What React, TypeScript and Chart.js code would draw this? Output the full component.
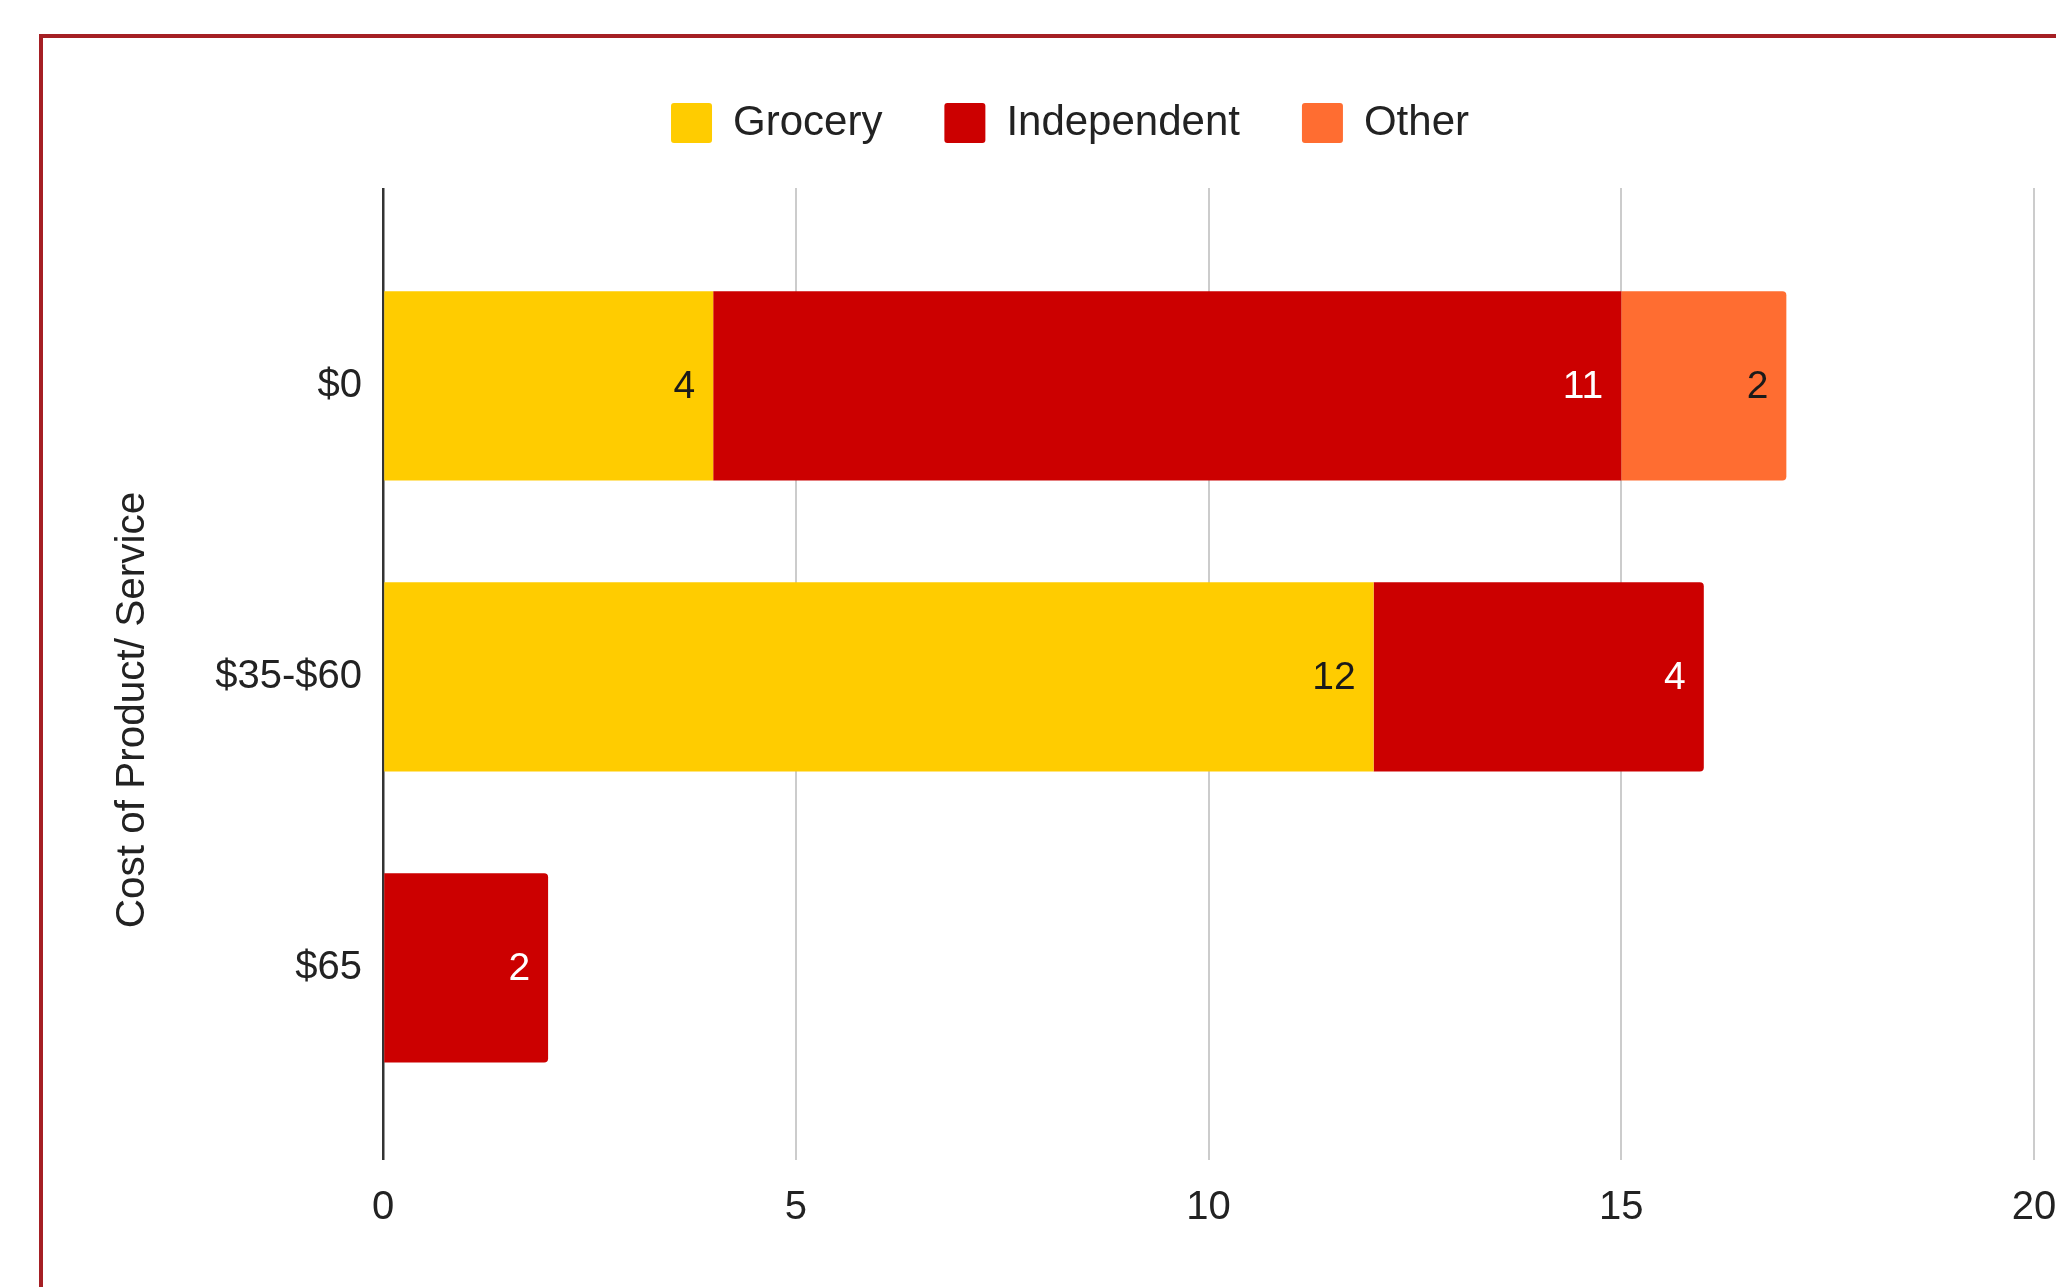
import React, { useEffect, useRef } from 'react';
import { Chart, registerables } from 'chart.js';

Chart.register(...registerables);

// ---- data ----
const categories = ['$0', '$35-$60', '$65'];
const seriesNames = ['Grocery', 'Independent', 'Other'];
const groceryValues = [4, 12, 0];
const independentValues = [11, 4, 2];
const otherValues = [2, 0, 0];
const xTickValues = [0, 5, 10, 15, 20];
const yAxisTitle = 'Cost of Product/ Service';

// ---- styles ----
const seriesColors = ['#FFCC00', '#CC0000', '#FF6D31'];
const labelColors = ['#1a1a1a', '#ffffff', '#1a1a1a'];
const FONT = "'Liberation Sans', Arial, Helvetica, sans-serif";
const TEXT = '#222222';

const seriesValues = [groceryValues, independentValues, otherValues];

const legendSpacingPlugin = {
  id: 'legendSpacing',
  beforeInit(chart: any) {
    const legend = chart.legend;
    if (!legend) return;
    const origFit = legend.fit;
    legend.fit = function () {
      origFit.call(this);
      this.height += 34;
    };
  },
};

const dataLabelPlugin = {
  id: 'dataLabels',
  afterDatasetsDraw(chart: any) {
    const ctx = chart.ctx;
    ctx.save();
    ctx.font = `39px ${FONT}`;
    ctx.textAlign = 'right';
    ctx.textBaseline = 'middle';
    chart.data.datasets.forEach((_ds: any, di: number) => {
      const meta = chart.getDatasetMeta(di);
      meta.data.forEach((el: any, i: number) => {
        const v = seriesValues[di][i];
        if (!v) return;
        ctx.fillStyle = labelColors[di];
        ctx.fillText(String(v), el.x - 18, el.y + 1);
      });
    });
    ctx.restore();
  },
};

const yTitlePlugin = {
  id: 'yTitle',
  afterDraw(chart: any) {
    const { ctx, chartArea } = chart;
    ctx.save();
    ctx.translate(chartArea.left - 250, (chartArea.top + chartArea.bottom) / 2 + 36);
    ctx.rotate(-Math.PI / 2);
    ctx.font = `40.5px ${FONT}`;
    ctx.textAlign = 'center';
    ctx.textBaseline = 'middle';
    ctx.fillStyle = TEXT;
    ctx.fillText(yAxisTitle, 0, 0);
    ctx.restore();
  },
};

export default function App() {
  const canvasRef = useRef<HTMLCanvasElement | null>(null);

  useEffect(() => {
    document.body.style.margin = '0';
    const canvas = canvasRef.current;
    if (!canvas) return;

    const datasets = seriesNames.map((name, si) => ({
      label: name,
      data: categories.map((_c, i) => ({ x: seriesValues[si][i], y: i })),
      backgroundColor: seriesColors[si],
      borderWidth: 0,
      borderRadius: 4,
      categoryPercentage: 1,
      barPercentage: 0.65,
    }));

    const chart = new Chart(canvas, {
      type: 'bar',
      data: { datasets },
      options: {
        indexAxis: 'y',
        animation: false,
        responsive: true,
        maintainAspectRatio: false,
        layout: { padding: { top: 40, left: 84, right: 0, bottom: 31 } },
        plugins: {
          tooltip: { enabled: false },
          legend: {
            position: 'top',
            align: 'center',
            labels: {
              boxWidth: 41,
              boxHeight: 40,
              padding: 62,
              color: TEXT,
              useBorderRadius: true,
              borderRadius: 3,
              font: { family: FONT, size: 42 },
            },
          },
        },
        scales: {
          x: {
            type: 'linear',
            stacked: true,
            min: 0,
            max: 20,
            afterBuildTicks: (scale: any) => {
              scale.ticks = xTickValues.map((v) => ({ value: v }));
            },
            afterFit: (scale: any) => {
              scale.paddingRight = 22;
            },
            border: { display: false },
            grid: {
              drawTicks: false,
              color: (ctx: any) => (ctx.tick && ctx.tick.value === 0 ? '#333333' : '#cccccc'),
              lineWidth: (ctx: any) => (ctx.tick && ctx.tick.value === 0 ? 2.5 : 2),
            },
            ticks: {
              padding: 24,
              color: TEXT,
              font: { family: FONT, size: 40 },
              maxRotation: 0,
            },
          },
          y: {
            type: 'linear',
            stacked: true,
            reverse: true,
            offset: false,
            min: -0.68,
            max: 2.66,
            afterBuildTicks: (scale: any) => {
              scale.ticks = categories.map((_c, i) => ({ value: i }));
            },
            afterFit: (scale: any) => {
              scale.width = 299;
            },
            border: { display: false },
            grid: { display: false, drawTicks: false },
            ticks: {
              padding: 21,
              color: TEXT,
              font: { family: FONT, size: 40 },
              callback: (v: any) => categories[Number(v)] ?? '',
            },
          },
        },
      },
      plugins: [legendSpacingPlugin, dataLabelPlugin, yTitlePlugin],
    } as any);

    return () => chart.destroy();
  }, []);

  return (
    <div
      style={{
        position: 'relative',
        width: 2056,
        height: 1287,
        overflow: 'hidden',
        background: '#ffffff',
      }}
    >
      <div
        style={{
          position: 'absolute',
          left: 39,
          top: 34,
          width: 2200,
          height: 1400,
          border: '4px solid #A51F24',
          boxSizing: 'border-box',
        }}
      />
      <div style={{ position: 'absolute', left: 0, top: 0, width: 2056, height: 1287 }}>
        <canvas ref={canvasRef} />
      </div>
    </div>
  );
}
